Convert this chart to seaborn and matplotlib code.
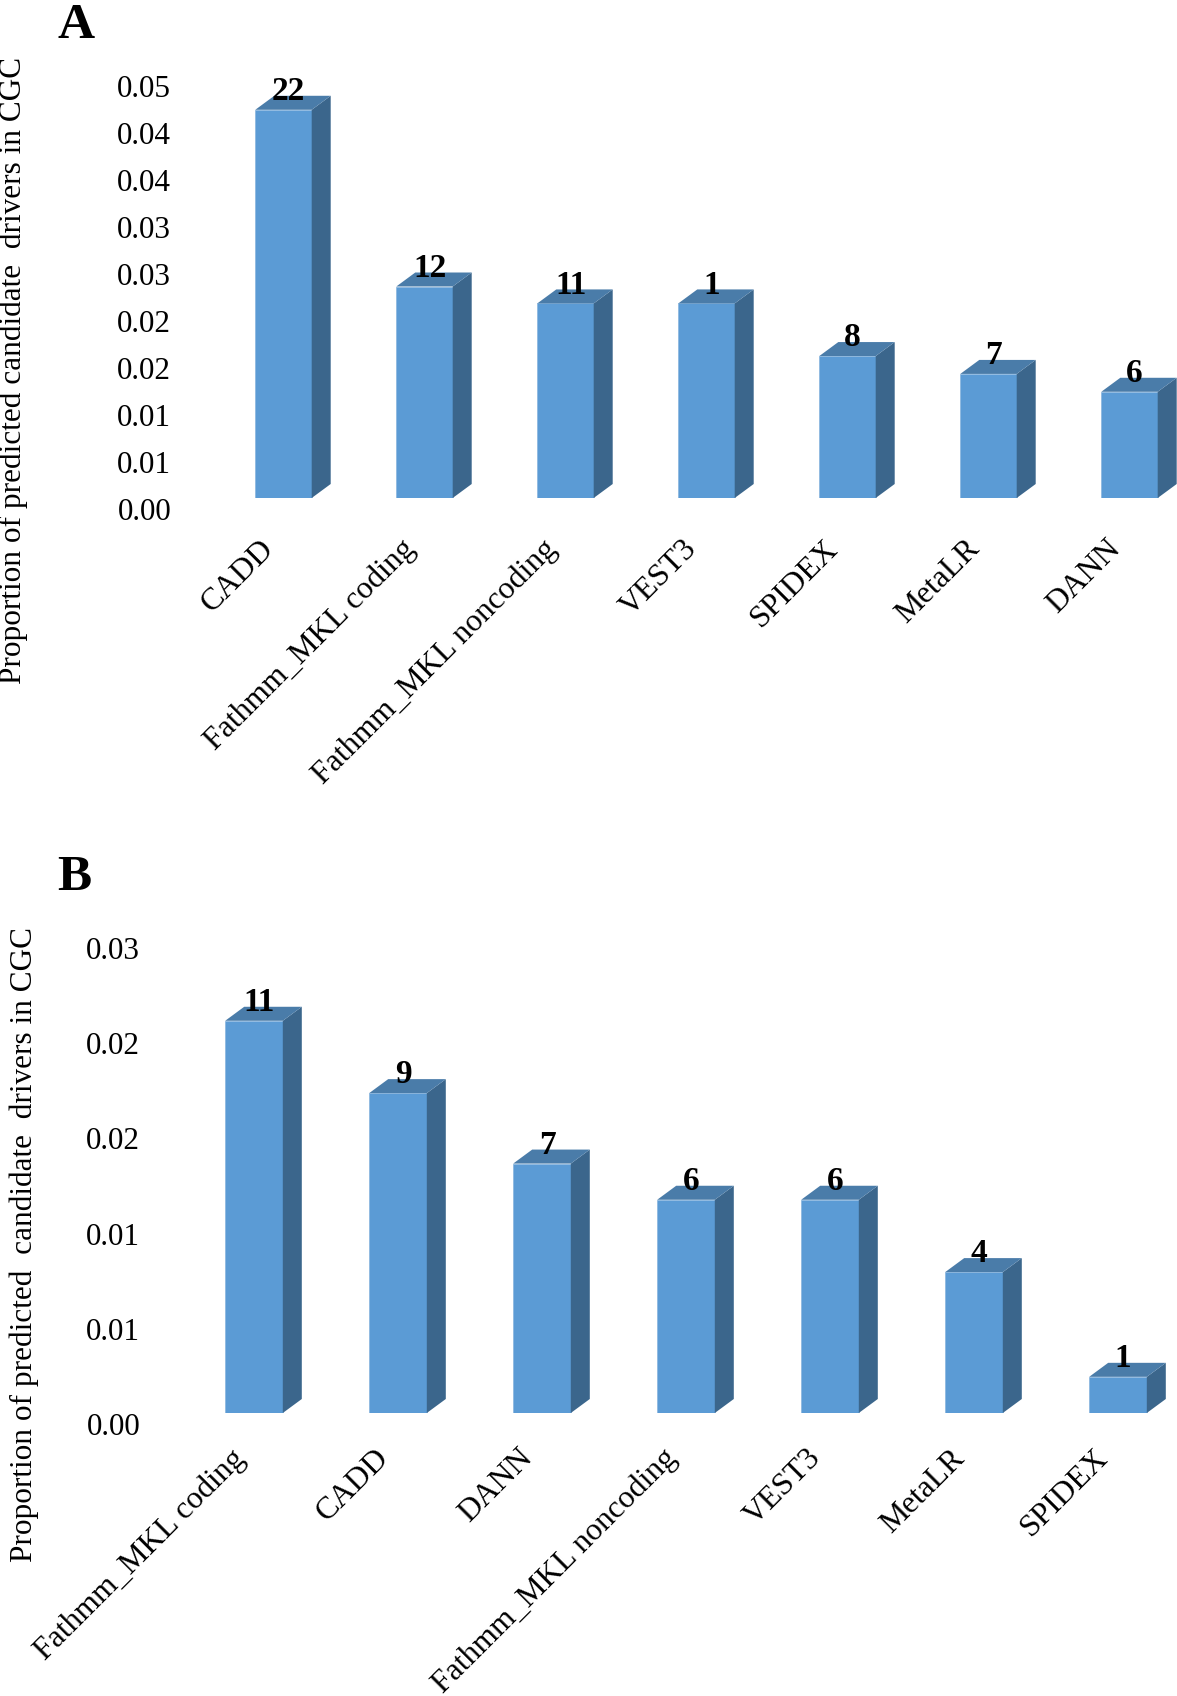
import matplotlib
matplotlib.use("Agg")
import matplotlib.pyplot as plt
import matplotlib.transforms as mtrans
from matplotlib.patches import Polygon
import seaborn as sns

# Panel A data
tools_a = ["CADD", "Fathmm_MKL coding", "Fathmm_MKL noncoding", "VEST3", "SPIDEX", "MetaLR", "DANN"]
props_a = [0.0413, 0.0225, 0.0207, 0.0207, 0.0151, 0.0132, 0.0113]
counts_a = [22, 12, 11, 1, 8, 7, 6]
ticks_a = [0.0, 0.005, 0.01, 0.015, 0.02, 0.025, 0.03, 0.035, 0.04, 0.045]
ticklabels_a = ["0.00", "0.01", "0.01", "0.02", "0.02", "0.03", "0.03", "0.04", "0.04", "0.05"]

# Panel B data
tools_b = ["Fathmm_MKL coding", "CADD", "DANN", "Fathmm_MKL noncoding", "VEST3", "MetaLR", "SPIDEX"]
props_b = [0.0206, 0.0168, 0.0131, 0.0112, 0.0112, 0.0074, 0.0019]
counts_b = [11, 9, 7, 6, 6, 4, 1]
ticks_b = [0.0, 0.005, 0.01, 0.015, 0.02, 0.025]
ticklabels_b = ["0.00", "0.01", "0.01", "0.02", "0.02", "0.03"]

W, H = 1177, 1696
FRONT = "#5B9BD5"
SIDE = "#3B668C"
TOP = "#4A7CA9"

sns.set_style("white")
plt.rcParams["font.family"] = ["Liberation Serif", "DejaVu Serif"]

fig = plt.figure(figsize=(W / 100, H / 100), dpi=100)


# draws one panel, left/top/bottom are in pixels of the final image
def draw_panel(tools, props, counts, ticks, ticklabels, left, top, bottom, step, xpad, ylabel, ylab_x, ylab_y):
    ax = fig.add_axes([left / W, 1 - bottom / H, (W - left) / W, (bottom - top) / H])
    sns.barplot(x=tools, y=props, color=FRONT, saturation=1, width=0.4, ax=ax,
                edgecolor="#8DB8E0", linewidth=0.6)
    ax.set_xlim(-0.5, -0.5 + (W - left) / step)
    ax.set_ylim(0, ticks[-1])
    sns.despine(ax=ax, left=True, bottom=True, top=True, right=True)

    # 3d look: side and top faces come from the bar rectangles
    dx = 19 / step
    dy = 14 / (bottom - top) * ticks[-1]
    for bar, n in zip(ax.patches, counts):
        x0, x1 = bar.get_x(), bar.get_x() + bar.get_width()
        h = bar.get_height()
        ax.add_patch(Polygon([(x1, 0), (x1 + dx, dy), (x1 + dx, h + dy), (x1, h)],
                             facecolor=SIDE, edgecolor="none", clip_on=False))
        ax.add_patch(Polygon([(x0, h), (x0 + dx, h + dy), (x1 + dx, h + dy), (x1, h)],
                             facecolor=TOP, edgecolor="none", clip_on=False))
        ax.text((x0 + x1) / 2 + dx * 0.27, h + dy * 0.7, str(n), ha="center", va="baseline",
                fontsize=24, fontweight="bold", color="black", clip_on=False)

    ax.set_yticks(ticks)
    ax.set_yticklabels(ticklabels)
    ax.tick_params(axis="y", length=0, pad=30, labelsize=22.4, labelcolor="black")
    # labels sit a bit under the front face position
    shift = mtrans.ScaledTranslation(0, -11 / 100, fig.dpi_scale_trans)
    for lab in ax.get_yticklabels():
        lab.set_transform(lab.get_transform() + shift)

    ax.tick_params(axis="x", length=0, pad=xpad, labelsize=22.8, labelcolor="black")
    ax.set_xticks(range(len(tools)))
    ax.set_xticklabels(tools, rotation=45, ha="right", va="top", rotation_mode="anchor")
    shift_x = mtrans.ScaledTranslation(-24 / 100, 0, fig.dpi_scale_trans)
    for lab in ax.get_xticklabels():
        lab.set_transform(lab.get_transform() + shift_x)

    ax.set_ylabel(ylabel, fontsize=22.5, color="black", va="center")
    ax.yaxis.set_label_coords(ylab_x / W, 1 - ylab_y / H, transform=fig.transFigure)
    return ax


draw_panel(tools_a, props_a, counts_a, ticks_a, ticklabels_a, 213, 75, 498, 141, 26,
           "Proportion of predicted candidate  drivers in CGC", 13, 370)
draw_panel(tools_b, props_b, counts_b, ticks_b, ticklabels_b, 182, 937, 1413, 144, 22,
           "Proportion of predicted  candidate  drivers in CGC", 24, 1245)

fig.text(58 / W, 1 - 38 / H, "A", fontsize=37, fontweight="bold", color="black", ha="left", va="baseline")
fig.text(57 / W, 1 - 890 / H, "B", fontsize=37, fontweight="bold", color="black", ha="left", va="baseline")

fig.savefig("out.png", dpi=100, facecolor="white")
